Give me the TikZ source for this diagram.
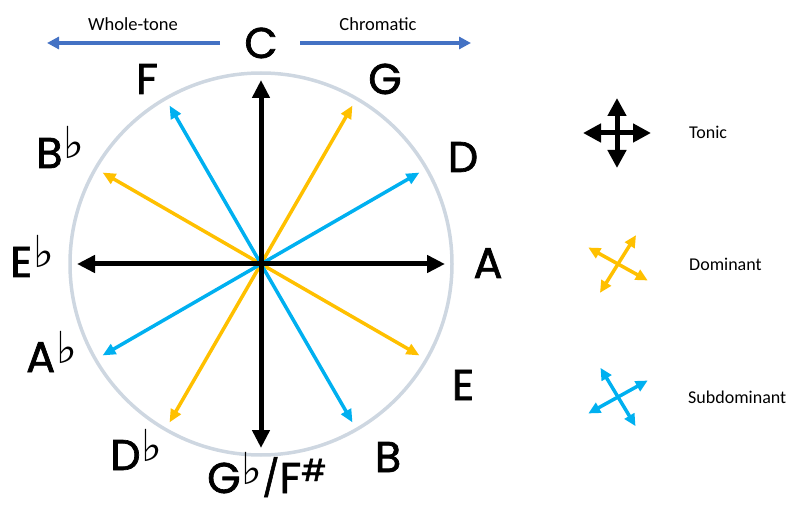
\documentclass[tikz,border=0pt]{standalone}
\usepackage{fontspec}
\setmainfont{Carlito}
\newfontfamily\notefont{Poppins}[FakeBold=1.6]
\newfontfamily\symfont{DejaVu Sans}
\definecolor{domline}{RGB}{255, 192, 0}
\definecolor{subline}{RGB}{0, 176, 240}
\definecolor{dirline}{RGB}{68, 114, 196}
\definecolor{rimline}{RGB}{206, 215, 225}
\usetikzlibrary{arrows.meta, positioning, calc}
\newcommand{\flt}{\hspace{1pt}\raisebox{9pt}{\symfont\fontsize{44}{44}\selectfont\char"266D}}
\newcommand{\shp}{\raisebox{12pt}{\fontsize{30}{30}\selectfont\#}}
\newcommand{\slsh}{\raisebox{2pt}{\fontsize{36}{36}\selectfont/}}

\begin{document}
\begin{tikzpicture}[x=1pt, y=1pt,
        note/.style={font=\notefont\fontsize{43}{43}\selectfont, inner sep=0pt},
        legendtext/.style={font=\fontsize{18}{18}\selectfont, inner sep=0pt, anchor=base west},
        tonicarrow/.style={line width=5pt, -{Triangle[length=18pt, width=17pt]}},
        colarrow/.style={line width=3.5pt, -{Triangle[length=13pt, width=11pt]}},
        dirarrow/.style={dirline, line width=3.5pt, -{Triangle[length=12pt, width=12pt]}}]
    \useasboundingbox (0,0) rectangle (790,504);

    % rim and centre
    \coordinate (o) at (261,240);
    \draw[rimline, line width=3.5pt] (o) circle (191);

    % coloured arrows first, black ones on top
    \foreach \ang/\col in {60/domline, 150/domline, 240/domline, 330/domline,
                           30/subline, 120/subline, 210/subline, 300/subline} {
        \coordinate (tip\ang) at ($(o)+(\ang:183)$);
        \draw[colarrow, \col] (o) -- (tip\ang);
    }
    \foreach \ang in {0, 90, 180, 270} {
        \coordinate (tip\ang) at ($(o)+(\ang:184)$);
        \draw[tonicarrow] (o) -- (tip\ang);
    }

    % note names
    \node[note, anchor=base] (nC) at (261,446) {C};
    \node[note, anchor=base] (nG) at (385,410) {G};
    \node[note, anchor=base] (nD) at (463,332) {D};
    \node[note, anchor=base] (nA) at (488,226) {A};
    \node[note, anchor=base] (nE) at (463,104) {E};
    \node[note, anchor=base] (nB) at (388,32) {B};
    \node[note, anchor=base west] (nGb) at (207,11) {G\flt\slsh F\shp};
    \node[note, anchor=base west] (nDb) at (110,34) {D\flt};
    \node[note, anchor=base west] (nAb) at (26,132) {A\flt};
    \node[note, anchor=base west] (nEb) at (10,227) {E\flt};
    \node[note, anchor=base west] (nBb) at (36,336) {B\flt};
    \node[note, anchor=base] (nF) at (147,410) {F};

    % directions
    \coordinate (wts) at (220,461);
    \coordinate (wte) at (47,461);
    \coordinate (chs) at (300,461);
    \coordinate (che) at (471,461);
    \draw[dirarrow] (wts) -- (wte);
    \draw[dirarrow] (chs) -- (che);
    \node[font=\fontsize{18.5}{18.5}\selectfont, inner sep=0pt, anchor=base] (wtlabel) at (133,473) {Whole-tone};
    \node[font=\fontsize{18.5}{18.5}\selectfont, inner sep=0pt, anchor=base] (chlabel) at (378,473) {Chromatic};

    % legend
    \coordinate (ton) at (617,371);
    \coordinate (dom) at (618,240);
    \coordinate (sub) at (618,107);
    \draw[line width=5pt, {Triangle[length=18pt, width=18pt]}-{Triangle[length=18pt, width=18pt]}]
        ($(ton)+(-34,0)$) -- ($(ton)+(34,0)$);
    \draw[line width=5pt, {Triangle[length=18pt, width=18pt]}-{Triangle[length=18pt, width=18pt]}]
        ($(ton)+(0,-35)$) -- ($(ton)+(0,35)$);
    \foreach \ang in {58, 151}
        \draw[domline, line width=3.5pt, {Triangle[length=12pt, width=11pt]}-{Triangle[length=12pt, width=11pt]}]
            ($(dom)+(\ang:34)$) -- ($(dom)+(\ang+180:34)$);
    \foreach \ang in {29, 121}
        \draw[subline, line width=3.5pt, {Triangle[length=12pt, width=11pt]}-{Triangle[length=12pt, width=11pt]}]
            ($(sub)+(\ang:34)$) -- ($(sub)+(\ang+180:34)$);
    \node[legendtext] (tonlabel) at (689,365) {Tonic};
    \node[legendtext] (domlabel) at (689,233) {Dominant};
    \node[legendtext] (sublabel) at (688,101) {Subdominant};
\end{tikzpicture}
\end{document}
